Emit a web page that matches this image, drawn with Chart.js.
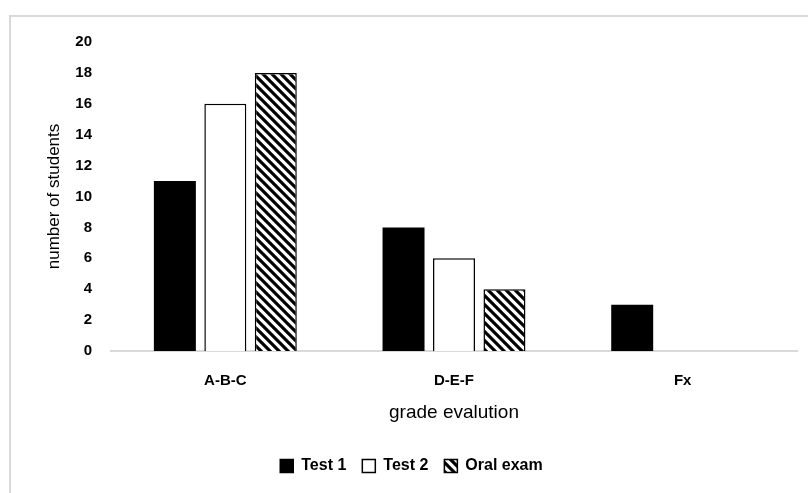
<!DOCTYPE html>
<html>
<head>
<meta charset="utf-8">
<script src="https://cdn.jsdelivr.net/npm/chart.js@4"></script>
<style>
  body { margin: 0; background: #fff; }
  #frame { position: absolute; left: 9px; top: 15px; width: 820px; height: 500px; border: 2px solid #d9d9d9; }
  #wrap { position: absolute; left: 0; top: 0; width: 808px; height: 493px; }
</style>
</head>
<body>
<div id="frame"></div>
<div id="wrap"><canvas id="chart"></canvas></div>
<script>
// chart data
const categories = ['A-B-C', 'D-E-F', 'Fx'];
const test1 = [11, 8, 3];
const test2 = [16, 6, 0];
const oralExam = [18, 4, 0];
const yTicks = [0, 2, 4, 6, 8, 10, 12, 14, 16, 18, 20];

// diagonal hatch for the oral exam bars
function makeHatch() {
  var n = 9;
  var c = document.createElement('canvas');
  c.width = n; c.height = n;
  var g = c.getContext('2d');
  g.fillStyle = '#fff';
  g.fillRect(0, 0, n, n);
  g.strokeStyle = '#000';
  g.lineWidth = 3.2;
  g.beginPath();
  g.moveTo(-2, -2); g.lineTo(n + 2, n + 2);
  g.moveTo(-2, n - 2); g.lineTo(2, n + 2);
  g.moveTo(n - 2, -2); g.lineTo(n + 2, 2);
  g.stroke();
  return g.createPattern(c, 'repeat');
}

var ctx = document.getElementById('chart').getContext('2d');
var hatch = makeHatch();
var font = 'Liberation Sans';

var myChart = new Chart(ctx, {
  type: 'bar',
  data: {
    labels: categories,
    datasets: [
      { label: 'Test 1', data: test1, backgroundColor: '#000', borderColor: '#000', borderWidth: 0 },
      { label: 'Test 2', data: test2, backgroundColor: '#fff', borderColor: '#000', borderWidth: 1.5 },
      { label: 'Oral exam', data: oralExam, backgroundColor: hatch, borderColor: '#000', borderWidth: 1.5 }
    ]
  },
  options: {
    responsive: true,
    maintainAspectRatio: false,
    animation: false,
    datasets: { bar: { categoryPercentage: 0.662, barPercentage: 0.832 } },
    layout: { padding: { left: 26, right: 11, top: 42, bottom: 9 } },
    plugins: {
      tooltip: { enabled: false },
      legend: {
        position: 'bottom',
        labels: {
          color: '#000',
          font: { family: font, size: 16, weight: 'bold' },
          boxWidth: 13, boxHeight: 13, padding: 16,
          generateLabels: function (chart) {
            return chart.data.datasets.map(function (ds, i) {
              return {
                text: ds.label,
                fillStyle: ds.backgroundColor,
                strokeStyle: '#000',
                lineWidth: 1.5,
                fontColor: '#000',
                datasetIndex: i
              };
            });
          }
        }
      }
    },
    scales: {
      x: {
        afterFit: function (axis) { axis.height = 91; },
        grid: { display: false, drawTicks: false },
        border: { color: '#d9d9d9', width: 2 },
        ticks: { color: '#000', font: { family: font, size: 15, weight: 'bold' }, padding: 21 },
        title: { display: true, text: 'grade evalution', color: '#000', font: { family: font, size: 19 }, padding: { top: 0, bottom: 18 } }
      },
      y: {
        min: 0, max: 20,
        afterBuildTicks: function (axis) { axis.ticks = yTicks.map(function (v) { return { value: v }; }); },
        afterFit: function (axis) { axis.width = 85; },
        grid: { display: false, drawTicks: false },
        border: { display: false },
        ticks: { color: '#000', font: { family: font, size: 15, weight: 'bold' }, padding: 19 },
        title: { display: true, text: 'number of students', color: '#000', font: { family: font, size: 17 }, padding: { top: 18, bottom: 0 } }
      }
    }
  }
});
</script>
</body>
</html>
